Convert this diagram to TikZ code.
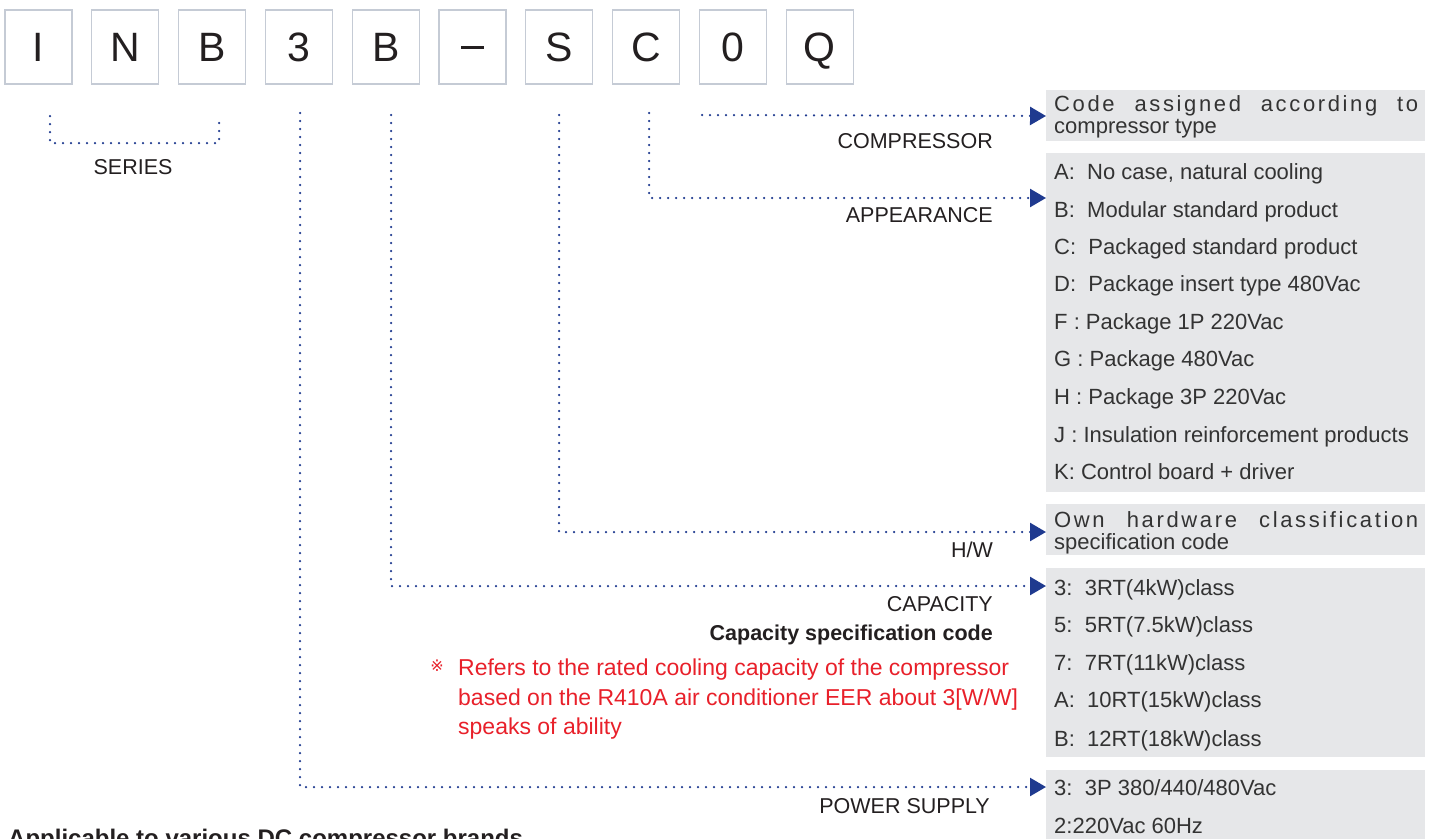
\documentclass[tikz,border=0pt]{standalone}
\usepackage{fontspec}
\setmainfont{Liberation Sans}
\newfontfamily\symfont{DejaVu Sans}
\usetikzlibrary{arrows.meta}
\definecolor{boxedge}{HTML}{C5CBD5}
\definecolor{navy}{HTML}{1F3A8F}
\definecolor{panelgray}{HTML}{E6E7E9}
\definecolor{ink}{HTML}{231F20}
\definecolor{inkb}{HTML}{333333}
\definecolor{redtxt}{HTML}{E8202A}
\newcommand\fsCode{\fontsize{41}{41}\selectfont}
\newcommand\fsLab{\fontsize{21.5}{24}\selectfont}
\newcommand\fsBox{\fontsize{22}{24}\selectfont}
\newcommand\fsRed{\fontsize{23}{26}\selectfont}
\begin{document}
\begin{tikzpicture}[x=1pt,y=-1pt,
  codebox/.style={draw=boxedge,line width=1.3pt,minimum width=67pt,minimum height=74pt,inner sep=0pt,font=\fsCode,text=ink,text height=29.5pt,text depth=0pt},
  panelbox/.style={fill=panelgray,draw=none,inner sep=0pt,minimum width=379pt,anchor=north west},
  dotline/.style={draw=navy,line width=2.5pt,dash pattern=on 0pt off 8pt,line cap=round},
  arrowline/.style={dotline,-{Triangle[length=16pt,width=18pt,sharp]}},
  lbl/.style={font=\fsLab,text=ink,inner sep=0pt,text height=15pt,text depth=0pt},
  rowtxt/.style={font=\fsBox,text=inkb,inner sep=0pt,anchor=west,text height=15pt,text depth=0pt},
  redline/.style={font=\fsRed,text=redtxt,inner sep=0pt,anchor=west,text height=16pt,text depth=0pt}
]
\useasboundingbox (0,0) rectangle (1434,838);

% code boxes
\node[codebox] (c1) at (38.5,47) {I};
\node[codebox] (c2) at (125.3,47) {N};
\node[codebox] (c3) at (212.1,47) {B};
\node[codebox] (c4) at (298.9,47) {3};
\node[codebox] (c5) at (385.7,47) {B};
\node[codebox] (c6) at (472.5,47) {\rule[13pt]{23pt}{3.2pt}};
\node[codebox] (c7) at (559.3,47) {S};
\node[codebox] (c8) at (646.1,47) {C};
\node[codebox] (c9) at (732.9,47) {0};
\node[codebox] (c10) at (819.7,47) {Q};

% panels
\node[panelbox,minimum height=51pt] (pCmp) at (1046,90) {};
\node[panelbox,minimum height=339pt] (pApp) at (1046,153) {};
\node[panelbox,minimum height=51pt] (pHw) at (1046,504) {};
\node[panelbox,minimum height=189pt] (pCap) at (1046,568) {};
\node[panelbox,minimum height=80pt] (pPow) at (1046,770) {};

% panel texts
\node[rowtxt] (cmp1) at (1054,104) {\makebox[364pt][s]{\addfontfeature{LetterSpace=12}Code assigned according to}};
\node[rowtxt] (cmp2) at (1054,126) {compressor type};

\node[rowtxt] (a1) at (1054,172) {A:\ \ No case, natural cooling};
\node[rowtxt] (a2) at (1054,210) {B:\ \ Modular standard product};
\node[rowtxt] (a3) at (1054,247) {C:\ \ Packaged standard product};
\node[rowtxt] (a4) at (1054,284) {D:\ \ Package insert type 480Vac};
\node[rowtxt] (a5) at (1054,322) {F\ :\ Package 1P 220Vac};
\node[rowtxt] (a6) at (1054,359) {G\ :\ Package 480Vac};
\node[rowtxt] (a7) at (1054,397) {H\ :\ Package 3P 220Vac};
\node[rowtxt] (a8) at (1054,435) {J\ :\ Insulation reinforcement products};
\node[rowtxt] (a9) at (1054,472) {K:\ Control board + driver};

\node[rowtxt] (hw1) at (1054,520) {\makebox[364pt][s]{\addfontfeature{LetterSpace=12}Own hardware classification}};
\node[rowtxt] (hw2) at (1054,542) {specification code};

\node[rowtxt] (k1) at (1054,588) {3:\ \ 3RT(4kW)class};
\node[rowtxt] (k2) at (1054,625) {5:\ \ 5RT(7.5kW)class};
\node[rowtxt] (k3) at (1054,663) {7:\ \ 7RT(11kW)class};
\node[rowtxt] (k4) at (1054,700) {A:\ \ 10RT(15kW)class};
\node[rowtxt] (k5) at (1054,739) {B:\ \ 12RT(18kW)class};

\node[rowtxt] (v1) at (1054,788) {3:\ \ 3P 380/440/480Vac};
\node[rowtxt] (v2) at (1054,826) {2:220Vac 60Hz};

% start points and arrow tips
\coordinate (sL) at (50,116);
\coordinate (sR) at (219,116);
\coordinate (bL) at (50,143);
\coordinate (bR) at (219,143);
\coordinate (sPow) at (300,113);
\coordinate (sCap) at (391,115);
\coordinate (sHw) at (559,115);
\coordinate (sApp) at (649,113);
\coordinate (sCmp) at (702,115);
\coordinate (tCmp) at (1046,116);
\coordinate (tApp) at (1046,198);
\coordinate (tHw) at (1046,532);
\coordinate (tCap) at (1046,586);
\coordinate (tPow) at (1046,787);

% connectors
\draw[dotline] (sL) -- (bL) -- (bR) -- (sR);
\draw[arrowline] (sCmp) -- (tCmp);
\draw[arrowline] (sApp) |- (tApp);
\draw[arrowline] (sHw) |- (tHw);
\draw[arrowline] (sCap) |- (tCap);
\draw[arrowline] (sPow) |- (tPow);

% labels
\node[lbl] (series) at (133,167) {SERIES};
\node[lbl,anchor=east] (lCmp) at (993,141) {COMPRESSOR};
\node[lbl,anchor=east] (lApp) at (993,215) {APPEARANCE};
\node[lbl,anchor=east] (lHw) at (993,550) {H/W};
\node[lbl,anchor=east] (lCap) at (993,604) {CAPACITY};
\node[lbl,anchor=east,font=\fsLab\bfseries] (lCap2) at (993,633) {Capacity specification code};
\node[lbl,anchor=east] (lPow) at (990,806) {POWER SUPPLY};

% red note
\node[font=\symfont\fontsize{16}{16}\selectfont,text=redtxt,inner sep=0pt] (mark) at (437,666) {※};
\node[redline] (r1) at (458,667) {Refers to the rated cooling capacity of the compressor};
\node[redline] (r2) at (458,697) {based on the R410A air conditioner EER about 3[W/W]};
\node[redline] (r3) at (458,726) {speaks of ability};

% bottom text, cut off by the lower edge as in the reference
\node[font=\fontsize{24}{24}\selectfont\bfseries,text=ink,inner sep=0pt,anchor=base west] (bottom) at (8,846) {Applicable to various DC compressor brands};
\end{tikzpicture}
\end{document}
